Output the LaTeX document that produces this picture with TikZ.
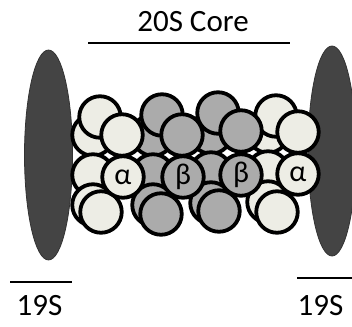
\documentclass[tikz,border=0pt]{standalone}
\usepackage{fontspec}
\setmainfont{Carlito}
\usepackage{tikz}
\usetikzlibrary{calc}
\usetikzlibrary{shapes.geometric}

\definecolor{palesub}{HTML}{EDEDE5}
\definecolor{greysub}{HTML}{ABABAB}
\definecolor{capgrey}{HTML}{444444}

\tikzset{
    sub/.style={circle, draw=black, line width=3.8pt, minimum size=41.5pt, inner sep=0pt,
        font=\fontsize{30}{30}\selectfont},
    asub/.style={sub, fill=palesub},
    bsub/.style={sub, fill=greysub},
    capsule/.style={ellipse, fill=capgrey, draw=black!80, line width=0.8pt, minimum width=48pt, minimum height=210pt},
    lbl/.style={font=\fontsize{31}{34}\selectfont, anchor=base},
    bar/.style={line width=2.8pt}
}

\begin{document}
\begin{tikzpicture}[x=1pt, y=-1pt]
    \useasboundingbox (0,0) rectangle (352,326);

    % 19S caps
    \node[capsule] (capl) at (48.5,155) {};
    \node[capsule] (capr) at (332,151) {};

    % back layer
    \foreach \n/\x/\y/\s in {1/123/177/asub, 2/183/177/bsub, 3/241/175/bsub, 4/298/174/asub} {
        \node[\s] (k\n) at ($(\x,\y) + (-30,-42)$) {};
        \node[\s] (l\n) at ($(\x,\y) + (-30,-2)$) {};
        \node[\s] (m\n) at ($(\x,\y) + (-30,28)$) {};
    }

    % top ring
    \node[asub] (t1) at ($(123,177) + (-23,-60)$) {};
    \node[bsub] (t2) at ($(183,177) + (-21,-62)$) {};
    \node[bsub] (t3) at ($(241,175) + (-23,-62)$) {};
    \node[asub] (t4) at ($(298,174) + (-22,-58)$) {};

    % bottom ring
    \node[asub] (u1) at ($(123,177) + (-22,35)$) {};
    \node[bsub] (u2) at ($(183,177) + (-22,37)$) {};
    \node[bsub] (u3) at ($(241,175) + (-22,36)$) {};
    \node[asub] (u4) at ($(298,174) + (-21,38)$) {};

    % front upper ring
    \node[asub] (f1) at ($(123,177) + (-1,-42)$) {};
    \node[bsub] (f2) at ($(183,177) + (-1,-42)$) {};
    \node[bsub] (f3) at ($(241,175) + (0,-44)$) {};
    \node[asub] (f4) at ($(298,174) + (0,-42)$) {};

    % labelled ring
    \node[asub] (a1) at (123,177) {α};
    \node[bsub] (b1) at (183,177) {β};
    \node[bsub] (b2) at (241,175) {β};
    \node[asub] (a2) at (298,174) {α};

    % labels
    \node[lbl] (core) at (193,32) {20S Core};
    \coordinate (corel) at (88,43);
    \coordinate (corer) at (290,43);
    \draw[bar] (corel) -- (corer);

    \coordinate (rpl1) at (10,282);
    \coordinate (rpl2) at (72,282);
    \draw[bar] (rpl1) -- (rpl2);
    \node[lbl] (rpl) at (39.5,315) {19S};

    \coordinate (rpr1) at (297,278);
    \coordinate (rpr2) at (354,278);
    \draw[bar] (rpr1) -- (rpr2);
    \node[lbl] (rpr) at (320.5,315) {19S};

\end{tikzpicture}
\end{document}
